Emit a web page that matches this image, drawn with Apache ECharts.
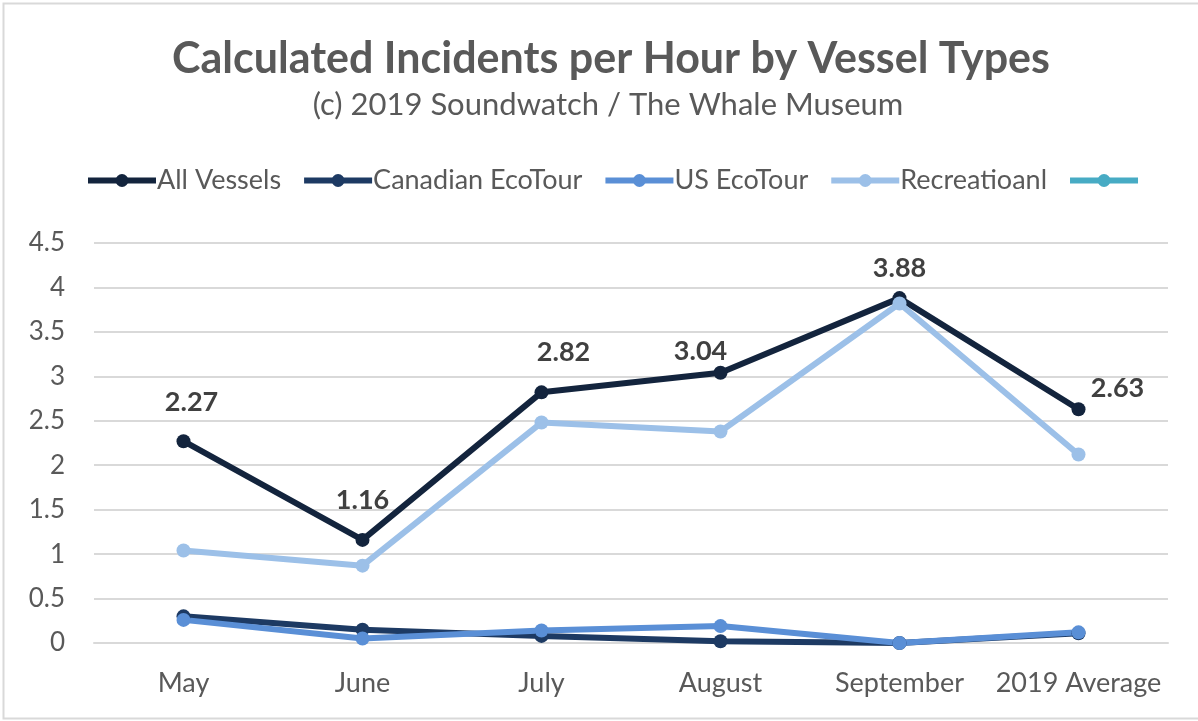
<!DOCTYPE html>
<html>
<head>
<meta charset="utf-8">
<script src="https://cdn.jsdelivr.net/npm/echarts@6/dist/echarts.min.js"></script>
<style>
  html, body { margin: 0; padding: 0; background: #ffffff; }
  #chart { width: 1198px; height: 721px; }
</style>
</head>
<body>
<div id="chart"></div>
<script>
// Months plus the season average
const categories = ['May', 'June', 'July', 'August', 'September', '2019 Average'];

// Incidents per hour by vessel type
const allVessels    = [2.27, 1.16, 2.82, 3.04, 3.88, 2.63];
const canadianEco   = [0.30, 0.15, 0.08, 0.02, 0.00, 0.11];
const usEco         = [0.26, 0.05, 0.14, 0.19, 0.00, 0.12];
const recreational  = [1.04, 0.87, 2.48, 2.38, 3.82, 2.12];
const unnamedSeries = [null, null, null, null, null, null];

const seriesNames = ['All Vessels', 'Canadian EcoTour', 'US EcoTour', 'Recreatioanl', ' '];
const seriesColors = ['#13243d', '#1d3a63', '#5a8fd6', '#9cc0e8', '#47abc4'];

const FONT = 'Lato, "Open Sans", sans-serif';
const TEXT_GREY = '#595959';

// per-point nudges for the value labels (pixels from the marker centre)
const labelNudges = [[8, -39], [0, -40], [22, -40], [-20, -21], [0, -30], [39, -21]];

function lineSeries(idx, data, extra) {
  return Object.assign({
    name: seriesNames[idx],
    type: 'line',
    data: data,
    symbol: 'circle',
    symbolSize: 14,
    showAllSymbol: true,
    lineStyle: { width: 6, color: seriesColors[idx] },
    itemStyle: { color: seriesColors[idx] },
    emphasis: { disabled: true },
    animation: false
  }, extra || {});
}

const chart = echarts.init(document.getElementById('chart'), null, { renderer: 'canvas' });

chart.setOption({
  backgroundColor: '#ffffff',
  textStyle: { fontFamily: FONT },
  graphic: [{
    type: 'rect',
    shape: { x: 3.5, y: 3.5, width: 1200, height: 715 },
    style: { fill: 'none', stroke: '#d9d9d9', lineWidth: 2 },
    silent: true
  }],
  title: [{
    text: 'Calculated Incidents per Hour by Vessel Types',
    left: 606,
    textAlign: 'center',
    top: 33,
    textStyle: { fontFamily: FONT, fontSize: 43, fontWeight: 'bold', color: TEXT_GREY }
  }, {
    text: '(c) 2019 Soundwatch / The Whale Museum',
    left: 603,
    textAlign: 'center',
    top: 84,
    textStyle: { fontFamily: FONT, fontSize: 31, fontWeight: 'normal', color: TEXT_GREY }
  }],
  legend: {
    data: seriesNames,
    top: 162,
    left: 80,
    itemWidth: 68,
    itemHeight: 16,
    itemGap: 20,
    lineStyle: { width: 6 },
    textStyle: { fontFamily: FONT, fontSize: 27, color: TEXT_GREY, padding: [0, 0, 0, -4] }
  },
  grid: { left: 94, right: 30, top: 243, bottom: 78, containLabel: false },
  xAxis: {
    type: 'category',
    data: categories,
    boundaryGap: true,
    axisLine: { show: true, lineStyle: { color: '#d9d9d9', width: 2 } },
    axisTick: { show: false },
    axisLabel: { interval: 0, fontFamily: FONT, fontSize: 27, color: TEXT_GREY, margin: 27 }
  },
  yAxis: {
    type: 'value',
    min: 0,
    max: 4.5,
    interval: 0.5,
    axisLine: { show: false },
    axisTick: { show: false },
    splitLine: { lineStyle: { color: '#d9d9d9', width: 2 } },
    axisLabel: { fontFamily: FONT, fontSize: 26, color: TEXT_GREY, margin: 29 }
  },
  series: [
    lineSeries(0, allVessels, {
      label: {
        show: true,
        fontFamily: FONT,
        fontSize: 27,
        fontWeight: 'bold',
        color: '#404040',
        position: 'inside',
        formatter: p => p.value.toFixed(2)
      },
      labelLayout: function (params) {
        const n = labelNudges[params.dataIndex];
        return { dx: n[0], dy: n[1] };
      }
    }),
    lineSeries(1, canadianEco),
    lineSeries(2, usEco),
    lineSeries(3, recreational),
    lineSeries(4, unnamedSeries)
  ]
});
</script>
</body>
</html>
